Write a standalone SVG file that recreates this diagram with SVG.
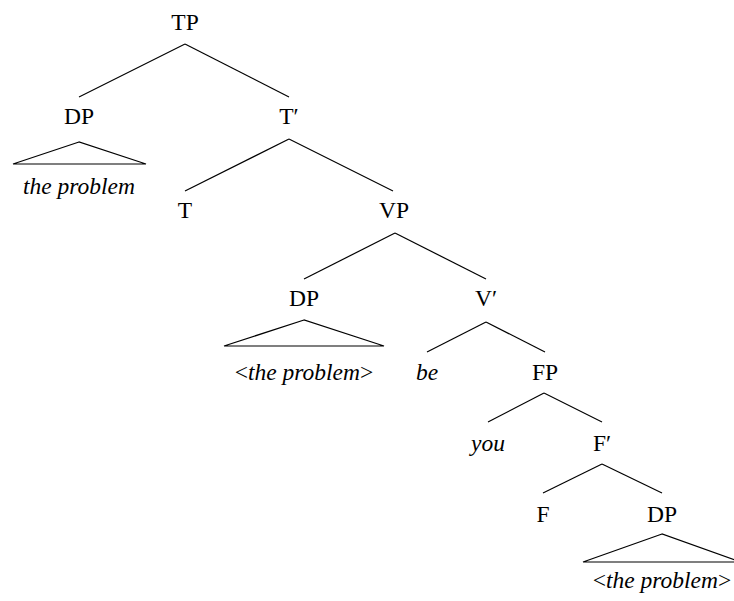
<svg xmlns="http://www.w3.org/2000/svg" width="734" height="601" viewBox="0 0 734 601">
<style>
text{font-family:'Liberation Serif','Times New Roman',serif;font-size:23.5px;fill:#000;text-anchor:middle}
.i{font-style:italic}
line,polygon{stroke:#000;stroke-width:1.2;fill:none}
</style>
<rect width="734" height="601" fill="#fff"/>
<g id="connectors">
<line x1="185" y1="44" x2="79" y2="97"/>
<line x1="185" y1="44" x2="289" y2="97"/>
<line x1="289" y1="139" x2="185" y2="191"/>
<line x1="289" y1="139" x2="393" y2="191"/>
<line x1="395" y1="233" x2="304" y2="279"/>
<line x1="395" y1="233" x2="486" y2="279"/>
<line x1="486" y1="322" x2="427" y2="352"/>
<line x1="486" y1="322" x2="545" y2="352"/>
<line x1="544" y1="393" x2="488" y2="422"/>
<line x1="544" y1="393" x2="602" y2="422"/>
<line x1="602" y1="464" x2="543" y2="493"/>
<line x1="602" y1="464" x2="662" y2="493"/>
</g>
<g id="TP"><text x="185" y="30">TP</text></g>
<g id="DP1"><text x="79" y="124">DP</text><polygon points="79,142 13,164 146,164"/><text class="i" x="79" y="194">the problem</text></g>
<g id="Tbar"><text x="289" y="124">T′</text></g>
<g id="T"><text x="185" y="218">T</text></g>
<g id="VP"><text x="394" y="218">VP</text></g>
<g id="DP2"><text x="304" y="306">DP</text><polygon points="304,320 224,346 384,346"/><text x="304" y="380">&lt;<tspan class="i">the problem</tspan>&gt;</text></g>
<g id="Vbar"><text x="486" y="306">V′</text></g>
<g id="be"><text class="i" x="427" y="380">be</text></g>
<g id="FP"><text x="545" y="380">FP</text></g>
<g id="you"><text class="i" x="488" y="451">you</text></g>
<g id="Fbar"><text x="602" y="451">F′</text></g>
<g id="F"><text x="543" y="522">F</text></g>
<g id="DP3"><text x="662" y="522">DP</text><polygon points="662,534 583,562 741,562"/><text x="662" y="588">&lt;<tspan class="i">the problem</tspan>&gt;</text></g>
</svg>
